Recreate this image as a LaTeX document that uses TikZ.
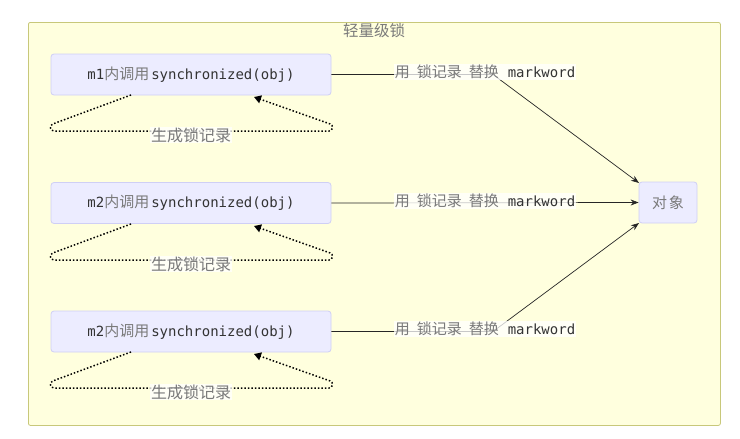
\documentclass[tikz,border=0pt]{standalone}
\usepackage{fontspec}
\setmonofont{DejaVu Sans Mono}
\newfontfamily\cjk{Noto Sans CJK SC}
\usetikzlibrary{arrows.meta}
\definecolor{clusterfill}{HTML}{FFFFDE}
\definecolor{clusterdraw}{HTML}{C8C87A}
\definecolor{nodefill}{HTML}{ECECFF}
\definecolor{nodedraw}{HTML}{CFCFF5}
\definecolor{txt}{HTML}{333333}
\definecolor{cjkgray}{HTML}{7A7A7A}
\newcommand{\cj}[1]{{\cjk\fontsize{15}{18}\selectfont\color{cjkgray}#1}}
\newcommand{\cjb}[1]{{\cjk\fontsize{16}{18}\selectfont\color{cjkgray}#1}}
\tikzset{
  box/.style={draw=nodedraw, fill=nodefill, rounded corners=3pt, line width=0.8pt, minimum height=41pt, inner sep=0pt, font=\fontsize{14}{16}\selectfont\ttfamily, text=txt},
  elabel/.style={fill=white, fill opacity=0.75, text opacity=1, inner sep=1pt, font=\fontsize{14}{16}\selectfont\ttfamily, text=txt},
  conn/.style={draw=black!85, line width=0.7pt, -{Stealth[length=8pt,width=6pt]}},
  loopline/.style={draw=black, line width=1.5pt, dotted, rounded corners=3pt, -{Triangle[length=7pt,width=8pt]}},
}
\begin{document}
\begin{tikzpicture}[x=1pt,y=-1pt]
\useasboundingbox (0,0) rectangle (740,439);
\fill[white] (0,0) rectangle (740,439);
\node[draw=clusterdraw, fill=clusterfill, line width=0.8pt, rounded corners=2pt, minimum width=692pt, minimum height=403pt, anchor=north west, inner sep=0pt] (cluster) at (28,22) {};
\node (title) at (374,31) {{\cjk\fontsize{15.5}{18}\selectfont\color{cjkgray}轻量级锁}};

\node[box, minimum width=280pt] (b1) at (191,74.5) {m1\cj{内调用}\kern2pt synchronized(obj)};
\node[box, minimum width=280pt] (b2) at (191,203) {m2\cj{内调用}\kern2pt synchronized(obj)};
\node[box, minimum width=280pt] (b3) at (191,331.5) {m2\cj{内调用}\kern2pt synchronized(obj)};
\node[box, minimum width=58pt] (obj) at (668,202.5) {\cj{对\kern2pt 象}};

\coordinate (c1) at (493,73);
\coordinate (c2) at (493,201);
\coordinate (c3) at (493,329);
\coordinate (t1) at (639,183);
\coordinate (t3) at (639,223);

\draw[conn] (b1.east) -- (b1.east -| c1) -- (t1);
\draw[conn] (b2.east) -- (obj.west);
\draw[conn] (b3.east) -- (b3.east -| c3) -- (t3);

\node[elabel] (l1) at (485,72) {\cj{用\kern7pt 锁记录\kern7pt 替换}\kern9pt markword};
\node[elabel] (l2) at (485,201) {\cj{用\kern7pt 锁记录\kern7pt 替换}\kern9pt markword};
\node[elabel] (l3) at (485,329) {\cj{用\kern7pt 锁记录\kern7pt 替换}\kern9pt markword};

\foreach \b/\y in {b1/0,b2/129,b3/257}{
  \draw[loopline] (131,{95+\y}) -- (50,{125+\y}) -- (51,{131+\y}) -- (332,{131+\y}) -- (333,{125+\y}) -- (254,{97+\y});
}
\node[elabel] (s1) at (191,135) {\cjb{生成锁记录}};
\node[elabel] (s2) at (191,264) {\cjb{生成锁记录}};
\node[elabel] (s3) at (191,392) {\cjb{生成锁记录}};
\end{tikzpicture}
\end{document}
